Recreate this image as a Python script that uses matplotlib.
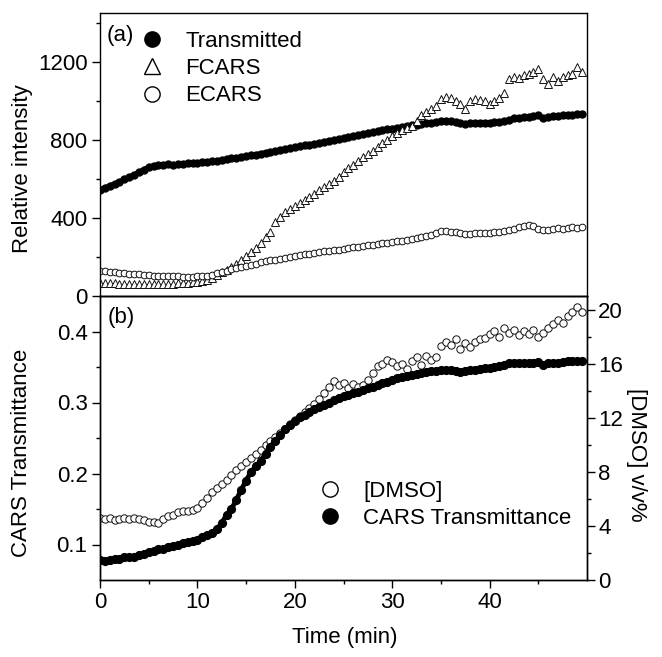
import numpy as np
import matplotlib
matplotlib.use("Agg")
import matplotlib.pyplot as plt
from matplotlib.lines import Line2D

plt.rcParams["font.family"] = ["Liberation Sans", "DejaVu Sans"]
plt.rcParams["font.size"] = 16

# time axis, one reading every half minute
time_min = np.arange(0, 50, 0.5)

# panel (a): relative intensity
transmitted = [545, 555, 565, 575, 585, 598, 610, 622, 635, 648,
               660, 668, 672, 672, 675, 670, 675, 678, 680, 682,
               684, 685, 688, 690, 692, 698, 702, 705, 708, 712,
               716, 720, 725, 730, 734, 738, 743, 748, 752, 757,
               762, 768, 772, 776, 780, 784, 790, 795, 800, 805,
               810, 815, 820, 825, 830, 835, 840, 845, 850, 855,
               858, 862, 866, 870, 874, 878, 880, 884, 888, 892,
               895, 898, 895, 890, 885, 880, 885, 888, 888, 886,
               888, 890, 893, 896, 900, 910, 912, 915, 918, 920,
               928, 912, 915, 920, 922, 925, 926, 928, 930, 932]
fcars = [68, 67, 66, 65, 64, 64, 63, 63, 62, 62,
         62, 62, 62, 62, 63, 64, 65, 66, 68, 70,
         72, 76, 80, 92, 108, 122, 135, 150, 165, 185,
         205, 225, 245, 270, 300, 330, 380, 405, 430, 445,
         460, 475, 490, 505, 525, 545, 560, 575, 590, 610,
         635, 655, 670, 690, 710, 730, 745, 765, 785, 800,
         820, 835, 850, 860, 870, 895, 925, 945, 960, 975,
         1010, 1020, 1015, 1000, 985, 960, 1000, 1010, 1005, 1000,
         985, 1000, 1015, 1040, 1110, 1120, 1115, 1130, 1140, 1150,
         1165, 1110, 1085, 1120, 1100, 1120, 1130, 1140, 1175, 1150]
ecars = [130, 127, 124, 121, 119, 117, 115, 113, 111, 109,
         107, 105, 104, 103, 102, 101, 100, 99, 99, 99,
         100, 102, 105, 110, 116, 123, 130, 136, 142, 148,
         154, 160, 166, 172, 177, 182, 187, 192, 197, 201,
         205, 209, 213, 217, 221, 225, 229, 232, 235, 238,
         242, 245, 249, 252, 256, 259, 262, 266, 269, 272,
         276, 280, 284, 288, 292, 297, 302, 308, 315, 325,
         335, 332, 328, 330, 322, 318, 320, 322, 322, 323,
         324, 326, 330, 335, 340, 345, 352, 358, 362, 358,
         345, 338, 340, 345, 348, 345, 350, 352, 350, 352]

# panel (b): CARS transmittance (left) and DMSO v/v% (right)
cars_trans = [0.078, 0.077, 0.078, 0.079, 0.080, 0.082, 0.082, 0.083, 0.085, 0.087,
              0.089, 0.091, 0.093, 0.094, 0.096, 0.098, 0.100, 0.102, 0.104, 0.105,
              0.107, 0.110, 0.113, 0.116, 0.122, 0.130, 0.142, 0.150, 0.163, 0.177,
              0.190, 0.202, 0.210, 0.218, 0.228, 0.238, 0.246, 0.254, 0.262, 0.268,
              0.274, 0.279, 0.283, 0.287, 0.291, 0.294, 0.297, 0.300, 0.303, 0.306,
              0.309, 0.311, 0.313, 0.315, 0.317, 0.320, 0.322, 0.325, 0.327, 0.329,
              0.332, 0.334, 0.336, 0.337, 0.339, 0.340, 0.341, 0.343, 0.344, 0.345,
              0.346, 0.346, 0.346, 0.344, 0.343, 0.345, 0.346, 0.346, 0.347, 0.348,
              0.349, 0.350, 0.351, 0.353, 0.355, 0.356, 0.355, 0.355, 0.356, 0.356,
              0.357, 0.353, 0.355, 0.356, 0.356, 0.357, 0.358, 0.358, 0.359, 0.359]
dmso = [4.6, 4.5, 4.6, 4.4, 4.5, 4.6, 4.5, 4.6, 4.5, 4.4,
        4.3, 4.3, 4.2, 4.5, 4.7, 4.8, 5.0, 5.1, 5.1, 5.2,
        5.3, 5.7, 6.1, 6.5, 6.8, 7.1, 7.4, 7.8, 8.1, 8.4,
        8.7, 9.0, 9.3, 9.6, 10.0, 10.3, 10.6, 10.9, 11.2, 11.5,
        11.8, 12.1, 12.4, 12.7, 13.0, 13.4, 13.8, 14.3, 14.7, 14.4,
        14.6, 14.2, 14.5, 14.3, 14.4, 14.8, 15.3, 15.8, 16.0, 16.3,
        16.1, 15.8, 16.0, 15.6, 16.2, 16.5, 15.9, 16.6, 16.3, 16.5,
        17.3, 17.6, 17.4, 17.8, 17.1, 17.5, 17.2, 17.6, 17.8, 17.9,
        18.2, 18.4, 18.0, 18.6, 18.3, 18.5, 18.1, 18.4, 18.2, 18.5,
        18.0, 18.3, 18.6, 18.9, 19.2, 19.0, 19.5, 19.8, 20.2, 19.8]

W, H = 662, 657
fig = plt.figure(figsize=(W / 100, H / 100), dpi=100)

left, right = 100 / W, 587 / W
ax1 = fig.add_axes([left, 1 - 296 / H, right - left, (296 - 13) / H])
ax2 = fig.add_axes([left, 1 - 580 / H, right - left, (580 - 296) / H], sharex=ax1)
ax3 = ax2.twinx()

open_style = dict(mfc="white", mec="#111111", mew=0.7, ls="none")

# panel (a)
ax1.plot(time_min, transmitted, "o", color="black", ms=5, ls="-", lw=3.5)
ax1.plot(time_min, fcars, "^", ms=6, **open_style)
ax1.plot(time_min, ecars, "o", ms=4.8, **open_style)

ax1.set_ylim(0, 1450)
ax1.set_yticks([0, 400, 800, 1200])
ax1.set_yticks([200, 600, 1000, 1400], minor=True)
ax1.tick_params(axis="x", which="both", bottom=False, labelbottom=False)
ax1.tick_params(axis="y", which="both", direction="out", pad=3)
ax1.tick_params(axis="y", which="major", length=6, width=1)
ax1.tick_params(axis="y", which="minor", length=3, width=1)

# panel (b)
ax3.plot(time_min, dmso, "o", ms=5.3, **open_style)
ax2.plot(time_min, cars_trans, "o", color="black", ms=5.6, ls="-", lw=3.5)
ax2.set_zorder(ax3.get_zorder() + 1)
ax2.patch.set_visible(False)

ax2.set_xlim(0, 50)
ax2.set_xticks([0, 10, 20, 30, 40])
ax2.set_xticks([5, 15, 25, 35, 45], minor=True)
ax2.set_ylim(0.05, 0.45)
ax2.set_yticks([0.1, 0.2, 0.3, 0.4])
ax2.set_yticks([0.15, 0.25, 0.35], minor=True)
ax3.set_ylim(0, 21)
ax3.set_yticks([0, 4, 8, 12, 16, 20])
ax3.set_yticks([2, 6, 10, 14, 18], minor=True)

for ax in (ax2, ax3):
    ax.tick_params(which="both", direction="out")
    ax.tick_params(which="major", length=6, width=1)
    ax.tick_params(which="minor", length=3, width=1)
ax2.tick_params(axis="y", pad=3)
ax2.tick_params(axis="x", pad=3)
ax3.tick_params(axis="y", pad=2)

for ax in (ax1, ax2, ax3):
    for s in ax.spines.values():
        s.set_linewidth(1)

# legends
h_trans = Line2D([], [], marker="o", color="black", ms=11, ls="none")
h_fcars = Line2D([], [], marker="^", ms=11, mfc="white", mec="black", mew=1, ls="none")
h_ecars = Line2D([], [], marker="o", ms=11, mfc="white", mec="black", mew=1, ls="none")
fig.legend([h_trans, h_fcars, h_ecars], ["Transmitted", "FCARS", "ECARS"],
           loc="upper left", bbox_to_anchor=(143 / W, 1 - 31 / H),
           frameon=False, borderpad=0, borderaxespad=0,
           handlelength=0.8, handletextpad=1.1, labelspacing=0.28)

h_dmso = Line2D([], [], marker="o", ms=11, mfc="white", mec="black", mew=1, ls="none")
h_cars = Line2D([], [], marker="o", color="black", ms=11, ls="none")
fig.legend([h_dmso, h_cars], ["[DMSO]", "CARS Transmittance"],
           loc="upper left", bbox_to_anchor=(321 / W, 1 - 481 / H),
           frameon=False, borderpad=0, borderaxespad=0,
           handlelength=0.8, handletextpad=1.1, labelspacing=0.28)

# panel tags and axis labels
fig.text(120 / W, 1 - 35 / H, "(a)", ha="center", va="center")
fig.text(121 / W, 1 - 318 / H, "(b)", ha="center", va="center")
fig.text(23 / W, 1 - 169 / H, "Relative intensity", rotation=90, ha="center", va="center")
fig.text(22 / W, 1 - 453 / H, "CARS Transmittance", rotation=90, ha="center", va="center")
fig.text(637 / W, 1 - 455 / H, "[DMSO] v/v%", rotation=270, ha="center", va="center")
fig.text(345 / W, 1 - 637 / H, "Time (min)", ha="center", va="center")

fig.savefig("out.png", dpi=100)
